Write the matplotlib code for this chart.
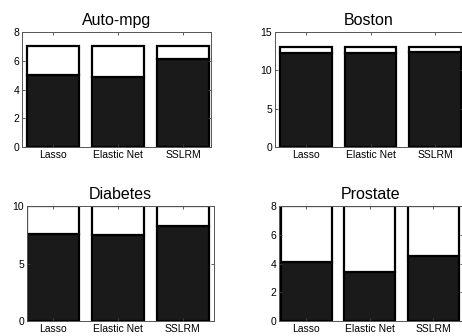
import numpy as np
import matplotlib.pyplot as plt

plt.rcParams['font.family'] = ['Liberation Sans Narrow', 'Liberation Sans', 'DejaVu Sans']

methods = ['Lasso', 'Elastic Net', 'SSLRM']
datasets = ['Auto-mpg', 'Boston', 'Diabetes', 'Prostate']
totals = [7, 13, 10, 8]
selected_auto = [5.0, 4.9, 6.1]
selected_boston = [12.2, 12.2, 12.4]
selected_diabetes = [7.6, 7.5, 8.3]
selected_prostate = [4.1, 3.4, 4.5]
yticks_auto = [0, 2, 4, 6, 8]
yticks_boston = [0, 5, 10, 15]
yticks_diabetes = [0, 5, 10]
yticks_prostate = [0, 2, 4, 6, 8]

W, H = 462, 336
fig = plt.figure(figsize=(W / 100, H / 100), dpi=100)

# axes boxes in pixels: left, top, right, bottom
boxes = [(22, 32, 211, 147), (275, 32, 463, 147),
         (27, 206, 214, 321), (279, 206, 463, 321)]
xlims = [(0.52, 3.43), (0.52, 3.43), (0.6, 3.48), (0.57, 3.47)]
selected = [selected_auto, selected_boston, selected_diabetes, selected_prostate]
yticks = [yticks_auto, yticks_boston, yticks_diabetes, yticks_prostate]

x = np.arange(1, len(methods) + 1)
for i in range(4):
    l, t, r, b = boxes[i]
    ax = fig.add_axes([l / W, 1 - b / H, (r - l) / W, (b - t) / H])
    sel = np.array(selected[i])
    rest = totals[i] - sel
    ax.bar(x, sel, width=0.8, color='#1a1a1a', edgecolor='black', linewidth=1.6)
    ax.bar(x, rest, bottom=sel, width=0.8, color='white', edgecolor='black', linewidth=1.6)
    ax.set_xlim(*xlims[i])
    ax.set_ylim(yticks[i][0], yticks[i][-1])
    ax.set_yticks(yticks[i])
    ax.set_xticks(x)
    ax.set_xticklabels(methods)
    ax.tick_params(direction='in', top=True, right=True, length=2, width=0.6,
                   labelsize=7.5, pad=2, color='#444444')
    for s in ax.spines.values():
        s.set_color('#555555')
        s.set_linewidth(0.7)
    ax.set_title(datasets[i], fontsize=11.5, pad=5)

fig.savefig('out.png', dpi=100)
